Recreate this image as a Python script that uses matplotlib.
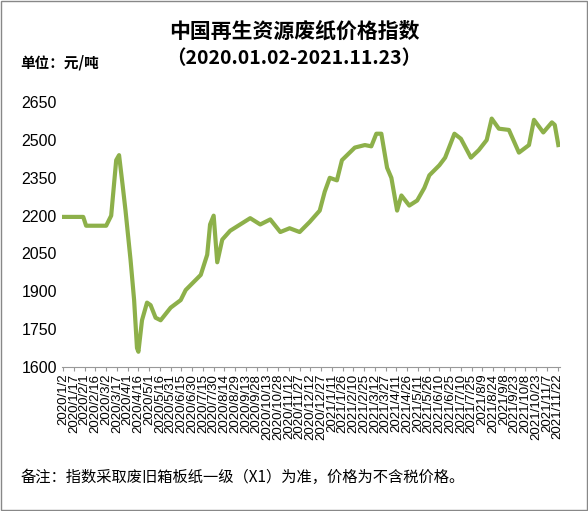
import matplotlib
matplotlib.use("Agg")
import matplotlib.pyplot as plt
import numpy as np
import pandas as pd

plt.rcParams['font.family'] = ['Noto Sans CJK SC', 'DejaVu Sans']

start = pd.Timestamp("2020-01-02")
day_offsets = [0,28,32,60,67,74,78,83,87,94,99,103,105,110,117,122,129,136,150,164,171,185,192,201,205,210,215,222,233,247,261,275,289,303,316,330,344,358,365,372,382,389,407,421,430,437,444,452,458,466,472,483,494,504,511,525,533,546,555,569,580,591,598,608,622,636,650,657,670,682,686,691]
values = [2195,2195,2160,2160,2200,2420,2440,2320,2220,2025,1865,1675,1660,1785,1855,1845,1795,1785,1835,1865,1905,1945,1965,2045,2165,2200,2015,2105,2140,2165,2190,2165,2185,2135,2150,2135,2175,2220,2295,2350,2340,2420,2470,2480,2475,2525,2525,2390,2350,2220,2280,2240,2260,2310,2360,2400,2430,2525,2505,2430,2460,2500,2585,2545,2540,2450,2480,2580,2530,2570,2560,2480]
tick_start = "2020-01-02"
tick_step_days = 15
yticks = [1600,1750,1900,2050,2200,2350,2500,2650]

dates = [start + pd.Timedelta(days=d) for d in day_offsets]
end = dates[-1]

fig = plt.figure(figsize=(5.88,5.11), dpi=100)
fig.patches.append(plt.Rectangle((0.002,0.002),0.996,0.996,transform=fig.transFigure,fill=False,ec='#888888',lw=1))
ax = fig.add_axes([0.105,0.282,0.847,0.518])
ax.plot(dates, values, color='#8DB04A', lw=3, solid_joinstyle='round')
ax.set_ylim(1600,2650)
ax.set_yticks(yticks)
ax.set_yticklabels([str(v) for v in yticks], family='Liberation Sans', fontsize=11.5)
ax.tick_params(axis='y', length=0)
ticks = pd.date_range(tick_start, end, freq=f"{tick_step_days}D")
ax.set_xticks(ticks)
ax.set_xticklabels([f"{t.year}/{t.month}/{t.day}" for t in ticks], rotation=90, fontsize=9.5, family='Liberation Sans')
ax.set_xlim(start - pd.Timedelta(days=2), end + pd.Timedelta(days=2))
for s in ['top','right','left']:
    ax.spines[s].set_visible(False)
ax.spines['bottom'].set_color('#999999')
ax.tick_params(axis='x', length=3, color='#999999', pad=2)

fig.text(0.5,0.94,"中国再生资源废纸价格指数",ha='center',va='center',fontsize=15,fontweight='bold')
fig.text(0.5,0.885,"（2020.01.02-2021.11.23）",ha='center',va='center',fontsize=14,fontweight='bold')
fig.text(0.035,0.878,"单位：元/吨",ha='left',va='center',fontsize=10.5,fontweight='bold')
fig.text(0.035,0.065,"备注：指数采取废旧箱板纸一级（X1）为准，价格为不含税价格。",ha='left',va='center',fontsize=11)
fig.savefig("out.png", dpi=100)
